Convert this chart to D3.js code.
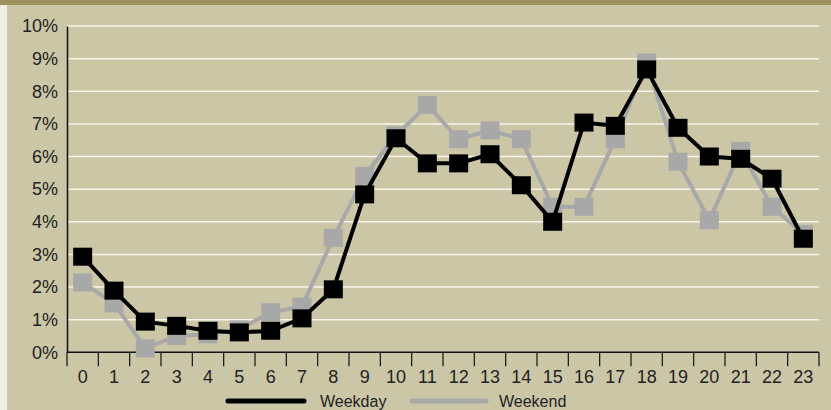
<!DOCTYPE html>
<html>
<head>
<meta charset="utf-8">
<script src="https://cdn.jsdelivr.net/npm/d3@7"></script>
<style>
  body { margin: 0; background: #f1efe4; }
  svg { display: block; font-family: "Liberation Sans", Arial, sans-serif; }
</style>
</head>
<body>
<script>
var hours = d3.range(0, 24).map(String);
var weekday = [2.93, 1.89, 0.94, 0.81, 0.66, 0.61, 0.66, 1.04, 1.93, 4.84, 6.56, 5.79,
               5.79, 6.07, 5.12, 4.0, 7.04, 6.94, 8.67, 6.88, 6.0, 5.93, 5.32, 3.48];
var weekend = [2.14, 1.5, 0.12, 0.5, 0.55, 0.7, 1.23, 1.4, 3.51, 5.41, 6.65, 7.58,
               6.53, 6.8, 6.53, 4.46, 4.46, 6.53, 8.88, 5.84, 4.05, 6.17, 4.46, 3.62];
var yTicks = d3.range(0, 11);
var seriesNames = ["Weekday", "Weekend"];

(function() {
  var width = 831, height = 410;
  var plotLeft = 67, plotRight = 819, plotTop = 26, plotBottom = 352.3;

  var svg = d3.select("body").append("svg")
    .attr("width", width)
    .attr("height", height);

  // background panel + olive strip on top
  svg.append("rect").attr("x", 7).attr("y", 0).attr("width", width - 7).attr("height", height).attr("fill", "#cbc6a6");
  svg.append("rect").attr("x", 0).attr("y", 0).attr("width", width).attr("height", 5).attr("fill", "#9b935b");

  var x = d3.scaleBand().domain(hours).range([plotLeft, plotRight]);
  var y = d3.scaleLinear().domain([0, 10]).range([plotBottom, plotTop]);

  // gridlines
  svg.append("g").selectAll("line")
    .data(yTicks.filter(function(d) { return d > 0; }))
    .enter().append("line")
    .attr("x1", plotLeft).attr("x2", plotRight)
    .attr("y1", function(d) { return y(d); })
    .attr("y2", function(d) { return y(d); })
    .attr("stroke", "#f7f5ea")
    .attr("stroke-width", 1.5);

  // y axis
  var yAxis = svg.append("g")
    .attr("transform", "translate(" + plotLeft + ",0)")
    .call(d3.axisLeft(y).tickValues(yTicks).tickSize(0).tickPadding(9)
      .tickFormat(function(d) { return d + "%"; }));
  yAxis.select(".domain").attr("stroke", "#111").attr("stroke-width", 1.5);
  yAxis.selectAll("text").attr("font-size", 18).attr("fill", "#222");

  // x axis line, ticks between bands
  var xg = svg.append("g");
  xg.append("line")
    .attr("x1", plotLeft).attr("x2", plotRight)
    .attr("y1", plotBottom).attr("y2", plotBottom)
    .attr("stroke", "#111").attr("stroke-width", 1.5);
  xg.selectAll(".tk")
    .data(hours.concat(["end"]))
    .enter().append("line")
    .attr("class", "tk")
    .attr("x1", function(d, i) { return i < 24 ? x(d) : plotRight; })
    .attr("x2", function(d, i) { return i < 24 ? x(d) : plotRight; })
    .attr("y1", plotBottom).attr("y2", plotBottom + 14)
    .attr("stroke", "#111").attr("stroke-width", 1.2);
  xg.selectAll(".lbl")
    .data(hours)
    .enter().append("text")
    .attr("class", "lbl")
    .attr("x", function(d) { return x(d) + x.bandwidth() / 2; })
    .attr("y", 382.5)
    .attr("text-anchor", "middle")
    .attr("font-size", 18)
    .attr("fill", "#222")
    .text(function(d) { return d; });

  var line = d3.line()
    .x(function(d, i) { return x(hours[i]) + x.bandwidth() / 2; })
    .y(function(d) { return y(d); });

  function drawSeries(values, color) {
    var g = svg.append("g");
    g.append("path")
      .datum(values)
      .attr("d", line)
      .attr("fill", "none")
      .attr("stroke", color)
      .attr("stroke-width", 4);
    g.selectAll("rect")
      .data(values)
      .enter().append("rect")
      .attr("x", function(d, i) { return x(hours[i]) + x.bandwidth() / 2 - 9.5; })
      .attr("y", function(d) { return y(d) - 9; })
      .attr("width", 19)
      .attr("height", 18)
      .attr("fill", color);
  }

  drawSeries(weekend, "#a8a8a8");
  drawSeries(weekday, "#000");

  // legend
  var legend = svg.append("g");
  var legendItems = [
    { name: seriesNames[0], color: "#000", x1: 228, x2: 304, tx: 320 },
    { name: seriesNames[1], color: "#a8a8a8", x1: 412, x2: 486, tx: 499 }
  ];
  legend.selectAll("line")
    .data(legendItems)
    .enter().append("line")
    .attr("x1", function(d) { return d.x1; })
    .attr("x2", function(d) { return d.x2; })
    .attr("y1", 401).attr("y2", 401)
    .attr("stroke", function(d) { return d.color; })
    .attr("stroke-width", 5)
    .attr("stroke-linecap", "round");
  legend.selectAll("text")
    .data(legendItems)
    .enter().append("text")
    .attr("x", function(d) { return d.tx; })
    .attr("y", 407)
    .attr("font-size", 16)
    .attr("fill", "#222")
    .text(function(d) { return d.name; });
})();
</script>
</body>
</html>
